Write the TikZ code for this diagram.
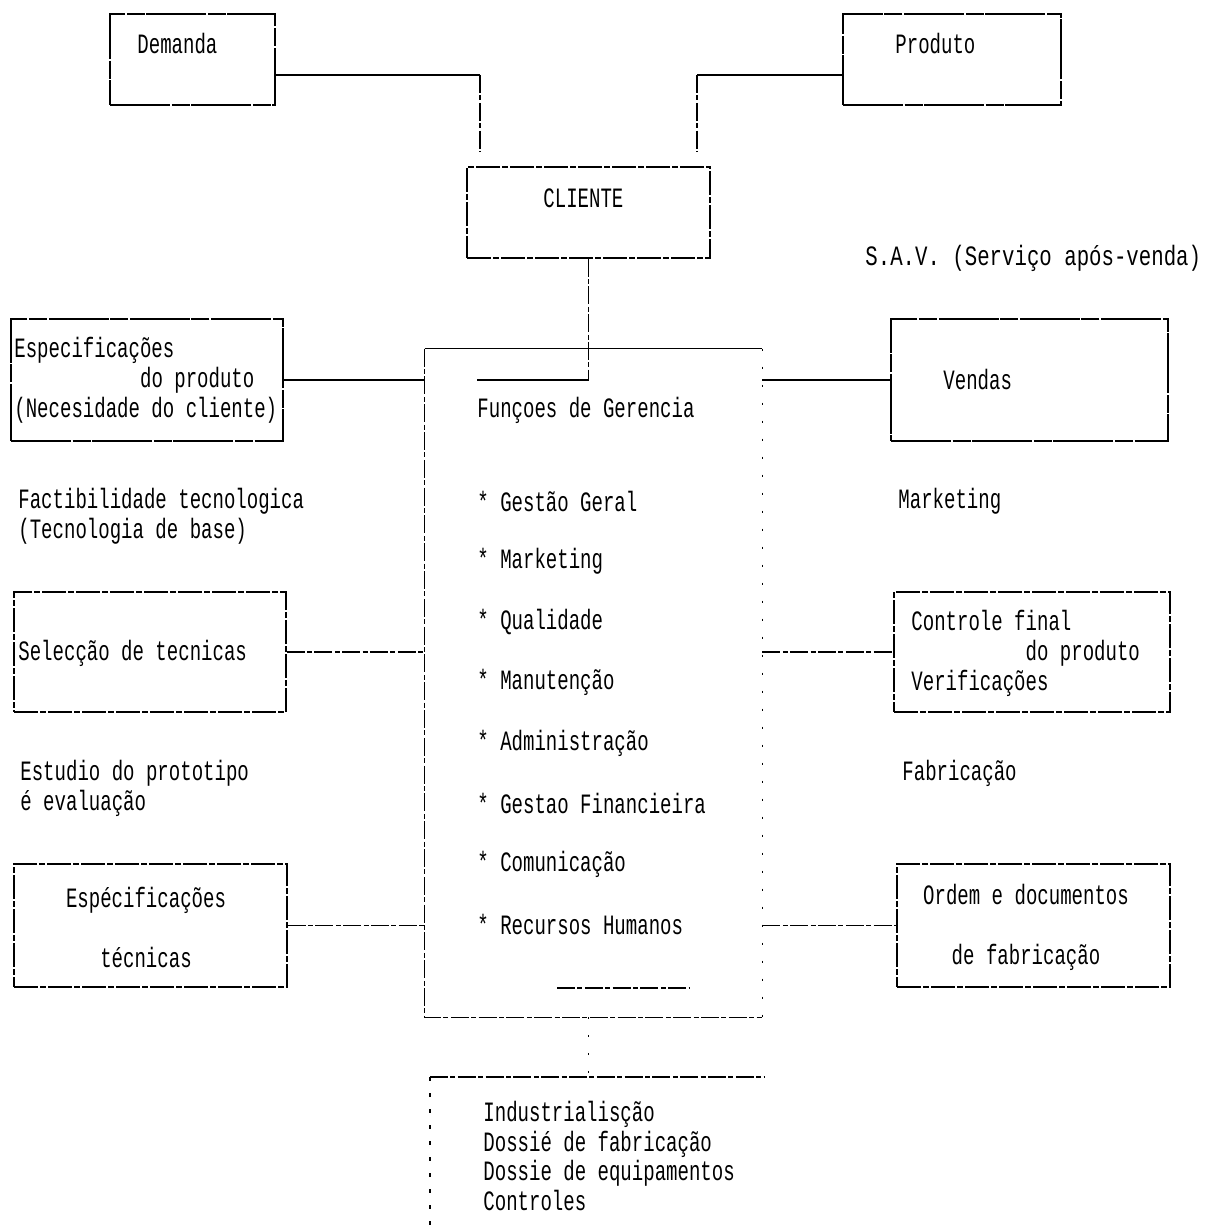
\documentclass[tikz,border=0pt]{standalone}
\usepackage{fontspec}
\newfontfamily\dotfont[FakeStretch=0.68]{Liberation Mono}
\newfontfamily\dotwide[FakeStretch=0.74]{Liberation Mono}
\usepackage{tikz}

\begin{document}
\begin{tikzpicture}[x=0.5pt,y=-0.5pt,
    txt/.style={inner sep=0pt,anchor=west,align=left,font=\dotfont\fontsize{14}{15}\selectfont},
    box/.style={inner sep=0pt,line width=0.6pt,draw,dash pattern=on 30pt off 0.8pt on 9pt off 0.8pt},
    dbox/.style={inner sep=0pt,line width=0.55pt,draw,dash pattern=on 12pt off 1pt on 3pt off 1pt},
    ln/.style={line width=0.6pt},
    dln/.style={line width=0.55pt,dash pattern=on 9pt off 1.2pt on 2.5pt off 1.2pt},
    dots/.style={line width=0.55pt,dash pattern=on 1pt off 8pt}]

\useasboundingbox (0,0) rectangle (1209,1229);

% boxes
\node (dem) [box,minimum width=82.5pt,minimum height=45.5pt] at (192.5,59.5) {};
\node (prod) [box,minimum width=109pt,minimum height=45.5pt] at (952,59.5) {};
\node (cli) [dbox,minimum width=121.5pt,minimum height=45.5pt] at (588.5,212.5) {};
\node (espec) [box,minimum width=136pt,minimum height=61pt] at (147,380) {};
\node (vendas) [box,minimum width=138.5pt,minimum height=61pt] at (1029.5,380) {};
\node (sel) [dbox,minimum width=136pt,minimum height=60pt] at (150,652) {};
\node (ctrl) [dbox,minimum width=138pt,minimum height=60pt] at (1032,652) {};
\node (esptec) [dbox,minimum width=136.5pt,minimum height=61.5pt] at (150.5,925.5) {};
\node (ordem) [dbox,minimum width=136.5pt,minimum height=61.5pt] at (1033.5,925.5) {};
\node (func) [inner sep=0pt,minimum width=168.5pt,minimum height=334pt] at (593.5,683) {};

\draw [ln] (func.north west) -- (func.north east);
\draw [dln] (func.north west) -- (func.south west) -- (func.south east);
\draw [dots] (func.north east) -- (func.south east);
\draw [dln] (557,988) -- (690,988);

% open box below
\coordinate (ind) at (430,1077);
\draw [dln] (ind) -- (765,1077);
\draw [line width=0.55pt,dash pattern=on 2pt off 6pt] (ind) -- (430,1229);

% texts
\node (demtxt) [txt] at (137,44) {Demanda};
\node (prodtxt) [txt] at (895,44) {Produto};
\node (clitxt) [txt] at (543,198) {CLIENTE};
\node (sav) [txt,font=\dotwide\fontsize{14}{15}\selectfont] at (865,258) {S.A.V. (Serviço após-venda)};
\node (espectxt) [txt] at (14,380) {Especificações\\\phantom{xxxxxxxxxxx}do produto\\(Necesidade do cliente)};
\node (vendtxt) [txt] at (943,380) {Vendas};
\node (gertxt) [txt] at (477,410) {Funçoes de Gerencia};
\node (fact) [txt] at (18,516) {Factibilidade tecnologica\\(Tecnologia de base)};
\node (mkt) [txt] at (898,501) {Marketing};
\node (seltxt) [txt] at (18,653) {Selecção de tecnicas};
\node (ctrltxt) [txt] at (911,653) {Controle final\\\phantom{xxxxxxxxxx}do produto\\Verificações};
\node (estudio) [txt] at (20,788) {Estudio do prototipo\\é evaluação};
\node (fabr) [txt] at (902,773) {Fabricação};
\node (esptxt) [txt,anchor=center,align=center] at (146,927) {Espécificações\\[15pt]técnicas};
\node (ordtxt) [txt,anchor=center,align=center] at (1026,927) {Ordem e documentos\\[15pt]de fabricação};
\node (indus) [txt,font=\dotfont\fontsize{14}{14.7}\selectfont] at (483,1156) {Industrialisção\\Dossié de fabricação\\Dossie de equipamentos\\Controles};

\foreach \t [count=\i from 0] in {Gestão Geral,Marketing,Qualidade,Manutenção,Administração,Gestao Financieira,Comunicação,Recursos Humanos}
    \node (item\i) [txt] at (477,501+60.5*\i) {* \t};

% connectors
\coordinate (dlink) at (480,152);
\coordinate (plink) at (697,152);
\draw [ln] (dem.east |- 0,75) -- (dlink |- 0,75);
\draw [dln] (dlink |- 0,75) -- (dlink);
\draw [ln] (prod.west |- 0,75) -- (plink |- 0,75);
\draw [dln] (plink |- 0,75) -- (plink);

\coordinate (bar) at (477,380);
\draw [dln] (cli.south) -- (cli.south |- bar);
\draw [ln] (cli.south |- bar) -- (bar);
\draw [dots] (func.south -| cli.south) -- (cli.south |- ind);

\draw [ln] (espec.east) -- (espec.east -| func.west);
\draw [dln] (sel.east) -- (sel.east -| func.west);
\draw [dln] (esptec.east) -- (esptec.east -| func.west);
\draw [ln] (vendas.west -| func.east) -- (vendas.west);
\draw [dln] (ctrl.west -| func.east) -- (ctrl.west);
\draw [dln] (ordem.west -| func.east) -- (ordem.west);

\end{tikzpicture}
\end{document}
